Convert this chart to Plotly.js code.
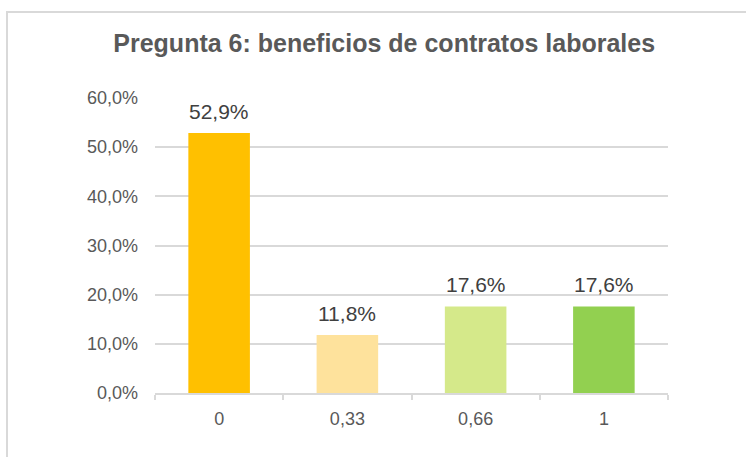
<!DOCTYPE html>
<html>
<head>
<meta charset="utf-8">
<script src="https://cdn.plot.ly/plotly-3.0.1.min.js"></script>
<style>
  html, body { margin: 0; padding: 0; background: #ffffff; }
  #wrap { position: relative; width: 746px; height: 457px; overflow: hidden; }
  #frame { position: absolute; left: 6px; top: 11px; width: 760px; height: 470px;
           border-top: 2px solid #d9d9d9; border-left: 2px solid #d9d9d9; box-sizing: border-box; }
  #chart { position: absolute; left: 0; top: 0; width: 746px; height: 457px; }
</style>
</head>
<body>
<div id="wrap">
  <div id="frame"></div>
  <div id="chart"></div>
</div>
<script>
const categories = ['0', '0,33', '0,66', '1'];
const values = [0.529, 0.118, 0.176, 0.176];
const labels = ['52,9%', '11,8%', '17,6%', '17,6%'];
const barColors = ['#FFC000', '#FEE29C', '#D5E98A', '#92D050'];
const yTickVals = [0, 0.1, 0.2, 0.3, 0.4, 0.5, 0.6];
const yTickText = ['0,0%', '10,0%', '20,0%', '30,0%', '40,0%', '50,0%', '60,0%'];

const trace = {
  type: 'bar',
  x: categories,
  y: values,
  marker: { color: barColors, line: { width: 0 } },
  hoverinfo: 'none'
};

// category axis: annotation x given as category index
const annotations = categories.map((c, i) => ({
  x: i, y: values[i], xref: 'x', yref: 'y',
  text: labels[i], showarrow: false,
  yanchor: 'bottom', yshift: 8,
  font: { family: 'Liberation Sans, Arial, sans-serif', size: 21, color: '#404040' }
}));

const layout = {
  width: 746, height: 457,
  paper_bgcolor: 'rgba(0,0,0,0)',
  plot_bgcolor: 'rgba(0,0,0,0)',
  margin: { l: 155, r: 78, t: 98, b: 64 },
  separators: ',.',
  showlegend: false,
  bargap: 0.52,
  title: {
    text: '<b>Pregunta 6: beneficios de contratos laborales</b>',
    font: { family: 'Liberation Sans, Arial, sans-serif', size: 25, color: '#595959' },
    xref: 'container', yref: 'container',
    x: 0.515, xanchor: 'center',
    y: 1 - 43 / 457, yanchor: 'middle'
  },
  xaxis: {
    type: 'category',
    showgrid: false,
    showline: true, linecolor: '#d9d9d9', linewidth: 2,
    ticks: 'outside', tickson: 'boundaries', ticklen: 5, tickcolor: '#d9d9d9', tickwidth: 2,
    ticklabelstandoff: 8,
    tickfont: { family: 'Liberation Sans, Arial, sans-serif', size: 18, color: '#595959' },
    zeroline: false,
    fixedrange: true
  },
  yaxis: {
    range: [0, 0.6],
    tickvals: yTickVals,
    ticktext: yTickText,
    showgrid: true, gridcolor: '#d9d9d9', gridwidth: 2,
    showline: false, zeroline: false,
    ticks: '', ticklabelstandoff: 16,
    tickfont: { family: 'Liberation Sans, Arial, sans-serif', size: 18, color: '#595959' },
    fixedrange: true
  },
  annotations: annotations
};

Plotly.newPlot('chart', [trace], layout, { displayModeBar: false, staticPlot: true });
</script>
</body>
</html>
